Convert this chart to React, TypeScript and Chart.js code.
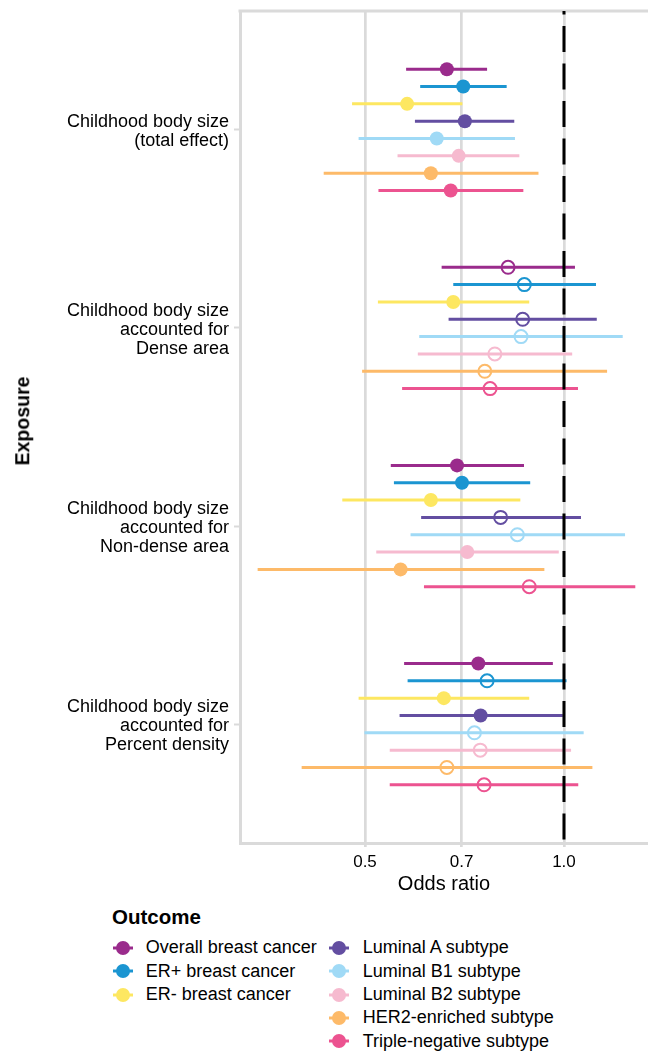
import React, { useEffect, useRef } from "react";
import { Chart, registerables } from "chart.js";

Chart.register(...registerables);

// ---------- data ----------
const exposureLabels: string[][] = [
  ["Childhood body size", "(total effect)"],
  ["Childhood body size", "accounted for", "Dense area"],
  ["Childhood body size", "accounted for", "Non-dense area"],
  ["Childhood body size", "accounted for", "Percent density"],
];

const outcomeNames: string[] = [
  "Overall breast cancer",
  "ER+ breast cancer",
  "ER- breast cancer",
  "Luminal A subtype",
  "Luminal B1 subtype",
  "Luminal B2 subtype",
  "HER2-enriched subtype",
  "Triple-negative subtype",
];

const outcomeColors: string[] = [
  "#9A2B8C",
  "#1B95D1",
  "#FDE761",
  "#634EA1",
  "#A0DAF6",
  "#F6BACF",
  "#FDBA69",
  "#EC5390",
];

// rows: exposures, columns: outcomes (same order as outcomeNames)
const oddsRatio: number[][] = [
  [0.665, 0.704, 0.579, 0.708, 0.642, 0.693, 0.629, 0.674],
  [0.823, 0.871, 0.68, 0.866, 0.861, 0.786, 0.759, 0.773],
  [0.689, 0.701, 0.629, 0.802, 0.85, 0.714, 0.566, 0.886],
  [0.742, 0.765, 0.658, 0.748, 0.732, 0.747, 0.665, 0.757],
];

const lowerCI: number[][] = [
  [0.577, 0.606, 0.478, 0.595, 0.489, 0.56, 0.433, 0.524],
  [0.653, 0.68, 0.523, 0.669, 0.604, 0.601, 0.495, 0.569],
  [0.547, 0.553, 0.462, 0.608, 0.586, 0.52, 0.344, 0.614],
  [0.573, 0.58, 0.489, 0.564, 0.499, 0.545, 0.401, 0.545],
];

const upperCI: number[][] = [
  [0.765, 0.819, 0.702, 0.841, 0.843, 0.856, 0.915, 0.868],
  [1.039, 1.118, 0.886, 1.121, 1.227, 1.029, 1.162, 1.05],
  [0.87, 0.889, 0.859, 1.061, 1.237, 0.982, 0.934, 1.282],
  [0.962, 1.009, 0.886, 0.996, 1.071, 1.025, 1.104, 1.051],
];

// filled point = significant (CI excludes 1)
const isFilled: boolean[][] = [
  [true, true, true, true, true, true, true, true],
  [false, false, true, false, false, false, false, false],
  [true, true, true, false, false, true, true, false],
  [true, false, true, true, false, false, false, false],
];

const xTickValues: number[] = [0.5, 0.7, 1.0];
const xMin = 0.3235;
const xMax = 1.34;
const referenceValue = 1.0;
const legendColumnSplit = 3;

// ---------- style ----------
const FONT = "'Liberation Sans', Arial, Helvetica, sans-serif";
const GRID = "#DADADA";
const DODGE = 0.7;

function rowY(g: number, i: number): number {
  const n = outcomeNames.length;
  return g + 1 + ((i - (n - 1) / 2) * DODGE) / n;
}

function zeroPadding(s: any) {
  s.paddingTop = 0;
  s.paddingBottom = 0;
  s.paddingLeft = 0;
  s.paddingRight = 0;
}

const framePlugin = {
  id: "frameAndRef",
  beforeDatasetsDraw(chart: any) {
    const { ctx, chartArea: a } = chart;
    ctx.save();
    ctx.strokeStyle = GRID;
    ctx.lineWidth = 3;
    ctx.beginPath();
    ctx.moveTo(a.left - 1.5, a.top);
    ctx.lineTo(a.right, a.top);
    ctx.stroke();
    ctx.restore();
  },
  afterDatasetsDraw(chart: any) {
    const { ctx, chartArea: a } = chart;
    const x = chart.scales.x.getPixelForValue(referenceValue);
    ctx.save();
    ctx.strokeStyle = "#000";
    ctx.lineWidth = 3;
    ctx.setLineDash([26, 11.5]);
    ctx.lineDashOffset = 22.5;
    ctx.beginPath();
    ctx.moveTo(x, a.top);
    ctx.lineTo(x, a.bottom);
    ctx.stroke();
    ctx.restore();
  },
};

function Marker({ color }: { color: string }) {
  return (
    <svg width={22} height={16} style={{ display: "block", flex: "0 0 auto" }}>
      <line x1={1} y1={8} x2={21} y2={8} stroke={color} strokeWidth={3} />
      <circle cx={11} cy={8} r={7} fill={color} />
    </svg>
  );
}

export default function App() {
  const canvasRef = useRef<HTMLCanvasElement | null>(null);

  useEffect(() => {
    const canvas = canvasRef.current;
    if (!canvas) return;

    const datasets: any[] = [];
    outcomeNames.forEach((name, i) => {
      const lineData: any[] = [];
      exposureLabels.forEach((_, g) => {
        const y = rowY(g, i);
        lineData.push({ x: lowerCI[g][i], y });
        lineData.push({ x: upperCI[g][i], y });
        lineData.push({ x: upperCI[g][i], y: null });
      });
      datasets.push({
        type: "line",
        label: name + " CI",
        data: lineData,
        borderColor: outcomeColors[i],
        backgroundColor: outcomeColors[i],
        borderWidth: 3,
        borderCapStyle: "butt",
        pointRadius: 0,
        pointHoverRadius: 0,
        fill: false,
        tension: 0,
        spanGaps: false,
        order: 2,
      });
    });
    outcomeNames.forEach((name, i) => {
      datasets.push({
        type: "scatter",
        label: name,
        data: exposureLabels.map((_, g) => ({ x: oddsRatio[g][i], y: rowY(g, i) })),
        pointRadius: exposureLabels.map((_, g) => (isFilled[g][i] ? 7 : 6.5)),
        pointHoverRadius: exposureLabels.map((_, g) => (isFilled[g][i] ? 7 : 6.5)),
        pointBackgroundColor: exposureLabels.map((_, g) =>
          isFilled[g][i] ? outcomeColors[i] : "rgba(0,0,0,0)"
        ),
        pointBorderColor: outcomeColors[i],
        pointBorderWidth: exposureLabels.map((_, g) => (isFilled[g][i] ? 0 : 2)),
        showLine: false,
        order: 1,
      });
    });

    const chart = new Chart(canvas, {
      type: "scatter",
      data: { datasets },
      options: {
        animation: false,
        responsive: false,
        devicePixelRatio: 1,
        events: [],
        layout: { autoPadding: false, padding: { top: 11, left: 0, right: 0, bottom: 0 } },
        plugins: {
          legend: { display: false },
          tooltip: { enabled: false },
        },
        scales: {
          x: {
            type: "logarithmic",
            position: "bottom",
            min: xMin,
            max: xMax,
            bounds: "data",
            afterBuildTicks: (s: any) => {
              s.ticks = xTickValues.map((v) => ({ value: v }));
            },
            afterFit: (s: any) => {
              s.height = 62;
              zeroPadding(s);
            },
            ticks: {
              callback: (v: any) => Number(v).toFixed(1),
              font: { family: FONT, size: 17 },
              color: "#000",
              padding: 5,
              autoSkip: false,
              maxRotation: 0,
            },
            grid: {
              color: GRID,
              lineWidth: 2.7,
              drawTicks: true,
              tickLength: 4,
              tickColor: GRID,
            },
            border: { display: true, color: GRID, width: 3 },
            title: {
              display: true,
              text: "Odds ratio",
              color: "#000",
              font: { family: FONT, size: 20 },
              padding: { top: 0, bottom: 9 },
            },
          },
          y: {
            type: "linear",
            position: "left",
            min: 0.4,
            max: 4.6,
            reverse: true,
            bounds: "data",
            afterBuildTicks: (s: any) => {
              s.ticks = exposureLabels.map((_, g) => ({ value: g + 1 }));
            },
            afterFit: (s: any) => {
              s.width = 240;
              zeroPadding(s);
            },
            ticks: {
              callback: (v: any) => exposureLabels[Math.round(Number(v)) - 1] ?? "",
              font: { family: FONT, size: 18, lineHeight: 1.06 },
              color: "#000",
              padding: 5,
              labelOffset: 2,
              autoSkip: false,
            },
            grid: {
              drawOnChartArea: false,
              drawTicks: true,
              tickLength: 6,
              tickColor: GRID,
              tickWidth: 2,
            },
            border: { display: true, color: GRID, width: 3 },
          },
        },
      },
      plugins: [framePlugin],
    } as any);

    return () => {
      chart.destroy();
    };
  }, []);

  const col1 = outcomeNames.slice(0, legendColumnSplit);
  const col2 = outcomeNames.slice(legendColumnSplit);
  const rowH = 23.33;

  return (
    <div
      style={{
        position: "absolute",
        left: 0,
        top: 0,
        width: 648,
        height: 1052,
        fontFamily: FONT,
        color: "#000",
        background: "#fff",
        overflow: "hidden",
      }}
    >
      <canvas
        ref={canvasRef}
        width={648}
        height={905}
        style={{ position: "absolute", left: 0, top: 0, width: 648, height: 905 }}
      />
      <div
        style={{
          position: "absolute",
          left: 23,
          top: 421,
          transform: "translate(-50%, -50%) rotate(-90deg)",
          fontWeight: "bold",
          fontSize: 19.5,
          lineHeight: 1,
          whiteSpace: "nowrap",
        }}
      >
        Exposure
      </div>
      <div
        style={{
          position: "absolute",
          left: 112,
          top: 904.7,
          fontWeight: "bold",
          fontSize: 20.5,
          lineHeight: "24px",
          whiteSpace: "nowrap",
        }}
      >
        Outcome
      </div>
      <div style={{ position: "absolute", left: 112, top: 936.3 }}>
        {col1.map((name, k) => (
          <div
            key={name}
            style={{ display: "flex", alignItems: "center", height: rowH, whiteSpace: "nowrap" }}
          >
            <Marker color={outcomeColors[k]} />
            <span style={{ marginLeft: 11.7, fontSize: 18, lineHeight: rowH + "px" }}>{name}</span>
          </div>
        ))}
      </div>
      <div style={{ position: "absolute", left: 328.3, top: 936.3 }}>
        {col2.map((name, k) => (
          <div
            key={name}
            style={{ display: "flex", alignItems: "center", height: rowH, whiteSpace: "nowrap" }}
          >
            <Marker color={outcomeColors[k + legendColumnSplit]} />
            <span style={{ marginLeft: 12.4, fontSize: 18, lineHeight: rowH + "px" }}>{name}</span>
          </div>
        ))}
      </div>
    </div>
  );
}
